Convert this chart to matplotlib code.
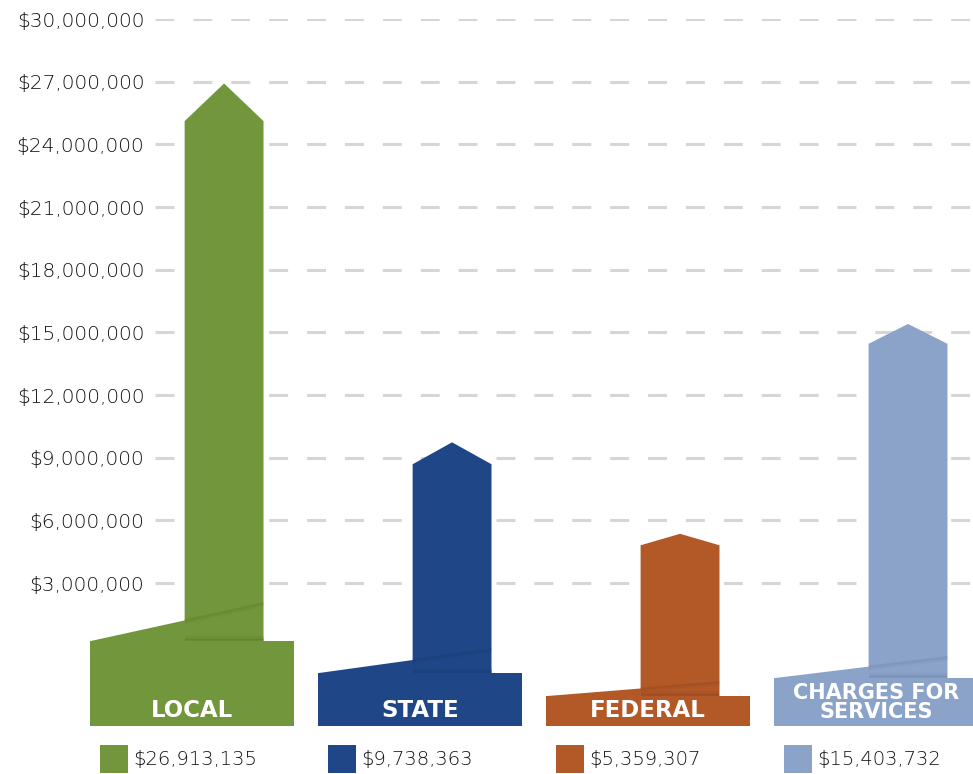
import matplotlib
matplotlib.use("Agg")
import matplotlib.pyplot as plt
import matplotlib.ticker as ticker
from matplotlib.patches import Polygon, Rectangle
from matplotlib.transforms import blended_transform_factory

# data
categories = ["LOCAL", "STATE", "FEDERAL", "CHARGES FOR\nSERVICES"]
values = [26913135, 9738363, 5359307, 15403732]
colors = ["#72963b", "#1f4788", "#b35827", "#8ba3c9"]
dark = ["#4f6b26", "#15315e", "#7d3c19", "#61789e"]
yticks = [3000000, 6000000, 9000000, 12000000, 15000000,
          18000000, 21000000, 24000000, 27000000, 30000000]

# shape of each arrow (dollars)
head = [1.8e6, 1.05e6, 0.55e6, 0.95e6]
plinth_top = [0.22e6, -1.31e6, -2.41e6, -1.55e6]
slant_top = [2.04e6, -0.16e6, -1.74e6, -0.54e6]
base = -3.84e6
half_w = 0.173
pl_left, pl_right = -0.588, 0.307
label_size = [16.5, 16.5, 16.5, 15]

num_font = ["DejaVu Sans"]

fig = plt.figure(figsize=(9.73, 7.74), dpi=100)
ax = fig.add_axes([155 / 973, 48 / 774, 818 / 973, 707 / 774])
ax.set_xlim(-0.303, 3.285)
ax.set_ylim(base, 30e6)

ax.hlines(yticks, -0.303, 3.285, colors="#d6d6d6", lw=2.2,
          linestyles=(0, (6.2, 6.2)), zorder=1)

for i, v in enumerate(values):
    xl, xr = i - half_w, i + half_w
    pl, pr = i + pl_left, i + pl_right
    # y of the slant line at the left edge of the column
    slope = (slant_top[i] - plinth_top[i]) / (xr - pl)
    y_xl = plinth_top[i] + slope * (xl - pl)
    shape = [(pl, plinth_top[i]), (xl, y_xl), (xl, v - head[i]), (i, v),
             (xr, v - head[i]), (xr, plinth_top[i])]
    ax.add_patch(Polygon(shape, closed=True, fc=colors[i], ec="none",
                         zorder=3, clip_on=False))
    # soft shading under the slant and above the plinth
    for k, a in enumerate([0.22, 0.12, 0.06]):
        off = -0.07e6 * k
        ax.plot([xl, xr], [y_xl + off, slant_top[i] + off], color=dark[i],
                lw=1.5, alpha=a, zorder=4, solid_capstyle="butt")
        ax.plot([xl, xr], [plinth_top[i] + 0.05e6 - off] * 2, color=dark[i],
                lw=1.5, alpha=a + 0.05, zorder=4, solid_capstyle="butt")
    ax.add_patch(Rectangle((pl, base), pr - pl, plinth_top[i] - base,
                           fc=colors[i], ec="none", zorder=5, clip_on=False))
    ax.text((pl + pr) / 2, base + 0.2e6, categories[i], ha="center",
            va="bottom", color="white", fontsize=label_size[i],
            fontweight="bold", family="DejaVu Sans", linespacing=0.95,
            zorder=6)

# legend under the bars
trans = blended_transform_factory(ax.transData, fig.transFigure)
for i, v in enumerate(values):
    ax.add_patch(Rectangle((i - 0.544, 1 / 774), 0.123, 28 / 774,
                           transform=trans, fc=colors[i], ec="none",
                           clip_on=False))
    ax.text(i - 0.544 + 0.145, 14 / 774, "${:,}".format(v), transform=trans,
            va="center", ha="left", fontsize=14, color="#111111",
            family=num_font, fontweight="light")

ax.set_yticks(yticks)
ax.yaxis.set_major_formatter(ticker.FuncFormatter(lambda y, p: "${:,.0f}".format(y)))
ax.set_xticks([])
ax.tick_params(axis="y", length=0, pad=7.5, labelsize=14.5, labelcolor="#111111")
for lab in ax.get_yticklabels():
    lab.set_family(num_font)
    lab.set_fontweight("light")
for s in ax.spines.values():
    s.set_visible(False)

fig.savefig("out.png", dpi=100)
